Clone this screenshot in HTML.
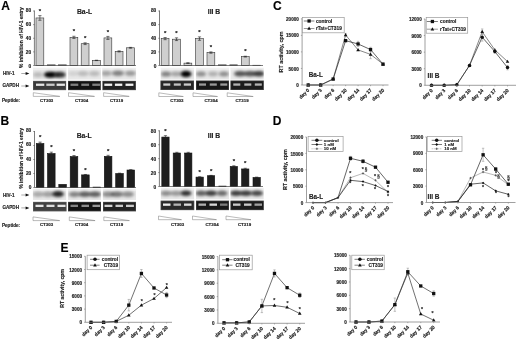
<!DOCTYPE html>
<html><head><meta charset="utf-8"><style>
html,body{margin:0;padding:0;background:#fff;width:520px;height:340px;overflow:hidden;position:relative}
svg text{font-family:"Liberation Sans", sans-serif;stroke:#222;stroke-width:0.15px}
</style></head><body>
<svg width="520" height="340" viewBox="0 0 520 340" style="position:absolute;left:0;top:0;filter:grayscale(1) blur(0.3px)">
<defs><filter id="bl" x="-50%" y="-50%" width="200%" height="200%"><feGaussianBlur stdDeviation="1.5"/></filter><filter id="bl2" x="-20%" y="-50%" width="140%" height="200%"><feGaussianBlur stdDeviation="0.35"/></filter></defs>
<rect width="520" height="340" fill="#fff"/>
<text x="1.3" y="9.7" font-size="12" font-weight="bold" text-anchor="start" fill="#000" >A</text>
<text x="0.4" y="125.1" font-size="12" font-weight="bold" text-anchor="start" fill="#000" >B</text>
<text x="273.0" y="9.7" font-size="12" font-weight="bold" text-anchor="start" fill="#000" >C</text>
<text x="272.7" y="124.9" font-size="12" font-weight="bold" text-anchor="start" fill="#000" >D</text>
<text x="60.5" y="251.5" font-size="12" font-weight="bold" text-anchor="start" fill="#000" >E</text>
<rect x="36" y="17.95" width="7.8" height="47.55" fill="#cfcfcf" stroke="#333" stroke-width="0.6"/>
<path d="M39.9 20.27V15.63M38.3 15.63H41.5M38.3 20.27H41.5" stroke="#222" stroke-width="0.6" fill="none"/>
<text x="39.9" y="12.832499999999992" font-size="6" font-weight="bold" text-anchor="middle" fill="#111" >*</text>
<rect x="47.4" y="64.82" width="7.8" height="0.68" fill="#cfcfcf" stroke="#333" stroke-width="0.6"/>
<rect x="58.6" y="64.82" width="7.8" height="0.68" fill="#cfcfcf" stroke="#333" stroke-width="0.6"/>
<rect x="70" y="37.36" width="7.8" height="28.14" fill="#cfcfcf" stroke="#333" stroke-width="0.6"/>
<path d="M73.9 38.45V36.27M72.30000000000001 36.27H75.5M72.30000000000001 38.45H75.5" stroke="#222" stroke-width="0.6" fill="none"/>
<text x="73.9" y="33.474375" font-size="6" font-weight="bold" text-anchor="middle" fill="#111" >*</text>
<rect x="81.2" y="43.70" width="7.8" height="21.80" fill="#cfcfcf" stroke="#333" stroke-width="0.6"/>
<path d="M85.10000000000001 44.59V42.81M83.50000000000001 42.81H86.7M83.50000000000001 44.59H86.7" stroke="#222" stroke-width="0.6" fill="none"/>
<text x="85.10000000000001" y="40.014375" font-size="6" font-weight="bold" text-anchor="middle" fill="#111" >*</text>
<rect x="92.6" y="60.39" width="7.8" height="5.11" fill="#cfcfcf" stroke="#333" stroke-width="0.6"/>
<path d="M96.5 60.59V60.19M94.9 60.19H98.1M94.9 60.59H98.1" stroke="#222" stroke-width="0.6" fill="none"/>
<rect x="104" y="37.91" width="7.8" height="27.59" fill="#cfcfcf" stroke="#333" stroke-width="0.6"/>
<path d="M107.9 39.41V36.41M106.30000000000001 36.41H109.5M106.30000000000001 39.41H109.5" stroke="#222" stroke-width="0.6" fill="none"/>
<text x="107.9" y="33.610625" font-size="6" font-weight="bold" text-anchor="middle" fill="#111" >*</text>
<rect x="115.2" y="51.40" width="7.8" height="14.10" fill="#cfcfcf" stroke="#333" stroke-width="0.6"/>
<path d="M119.10000000000001 51.94V50.85M117.50000000000001 50.85H120.7M117.50000000000001 51.94H120.7" stroke="#222" stroke-width="0.6" fill="none"/>
<rect x="126.6" y="47.79" width="7.8" height="17.71" fill="#cfcfcf" stroke="#333" stroke-width="0.6"/>
<path d="M130.5 48.20V47.38M128.9 47.38H132.1M128.9 48.20H132.1" stroke="#222" stroke-width="0.6" fill="none"/>
<path d="M34.4 10.5V65.5H136" stroke="#444" stroke-width="0.7" fill="none"/>
<path d="M33.199999999999996 65.50H34.4" stroke="#444" stroke-width="0.6"/>
<text x="31.2" y="68.0" font-size="4.8" font-weight="bold" text-anchor="end" fill="#222" >0</text>
<path d="M33.199999999999996 51.88H34.4" stroke="#444" stroke-width="0.6"/>
<text x="31.2" y="54.1" font-size="4.8" font-weight="bold" text-anchor="end" fill="#222" >20</text>
<path d="M33.199999999999996 38.25H34.4" stroke="#444" stroke-width="0.6"/>
<text x="31.2" y="40.2" font-size="4.8" font-weight="bold" text-anchor="end" fill="#222" >40</text>
<path d="M33.199999999999996 24.62H34.4" stroke="#444" stroke-width="0.6"/>
<text x="31.2" y="26.3" font-size="4.8" font-weight="bold" text-anchor="end" fill="#222" >60</text>
<path d="M33.199999999999996 11.00H34.4" stroke="#444" stroke-width="0.6"/>
<text x="31.2" y="12.400000000000002" font-size="4.8" font-weight="bold" text-anchor="end" fill="#222" >80</text>
<text x="84.5" y="14.2" font-size="6.8" font-weight="bold" text-anchor="middle" fill="#222" >Ba-L</text>
<text x="0" y="0" font-size="4.9" font-weight="bold" text-anchor="middle" fill="#222" transform="translate(23.1,37.6) rotate(-90)">% inhibition of HIV-1 entry</text>
<rect x="161.2" y="38.59" width="7.8" height="26.91" fill="#cfcfcf" stroke="#333" stroke-width="0.6"/>
<path d="M165.1 39.68V37.50M163.5 37.50H166.7M163.5 39.68H166.7" stroke="#222" stroke-width="0.6" fill="none"/>
<text x="165.1" y="34.700625" font-size="6" font-weight="bold" text-anchor="middle" fill="#111" >*</text>
<rect x="172.6" y="39.20" width="7.8" height="26.30" fill="#cfcfcf" stroke="#333" stroke-width="0.6"/>
<path d="M176.5 40.57V37.84M174.9 37.84H178.1M174.9 40.57H178.1" stroke="#222" stroke-width="0.6" fill="none"/>
<text x="176.5" y="35.041250000000005" font-size="6" font-weight="bold" text-anchor="middle" fill="#111" >*</text>
<rect x="184" y="63.12" width="7.8" height="2.38" fill="#cfcfcf" stroke="#333" stroke-width="0.6"/>
<path d="M187.9 63.46V62.77M186.3 62.77H189.5M186.3 63.46H189.5" stroke="#222" stroke-width="0.6" fill="none"/>
<rect x="195.6" y="38.59" width="7.8" height="26.91" fill="#cfcfcf" stroke="#333" stroke-width="0.6"/>
<path d="M199.5 40.29V36.89M197.9 36.89H201.1M197.9 40.29H201.1" stroke="#222" stroke-width="0.6" fill="none"/>
<text x="199.5" y="34.087500000000006" font-size="6" font-weight="bold" text-anchor="middle" fill="#111" >*</text>
<rect x="207" y="52.56" width="7.8" height="12.94" fill="#cfcfcf" stroke="#333" stroke-width="0.6"/>
<path d="M210.9 53.24V51.88M209.3 51.88H212.5M209.3 53.24H212.5" stroke="#222" stroke-width="0.6" fill="none"/>
<text x="210.9" y="49.075" font-size="6" font-weight="bold" text-anchor="middle" fill="#111" >*</text>
<rect x="218.4" y="64.82" width="7.8" height="0.68" fill="#cfcfcf" stroke="#333" stroke-width="0.6"/>
<rect x="229.8" y="64.82" width="7.8" height="0.68" fill="#cfcfcf" stroke="#333" stroke-width="0.6"/>
<rect x="241.4" y="56.64" width="7.8" height="8.86" fill="#cfcfcf" stroke="#333" stroke-width="0.6"/>
<path d="M245.3 57.05V56.23M243.70000000000002 56.23H246.9M243.70000000000002 57.05H246.9" stroke="#222" stroke-width="0.6" fill="none"/>
<text x="245.3" y="53.435" font-size="6" font-weight="bold" text-anchor="middle" fill="#111" >*</text>
<rect x="252.8" y="65.23" width="7.8" height="0.27" fill="#cfcfcf" stroke="#333" stroke-width="0.6"/>
<path d="M159.5 10.5V65.5H263" stroke="#444" stroke-width="0.7" fill="none"/>
<path d="M158.3 65.50H159.5" stroke="#444" stroke-width="0.6"/>
<text x="156.3" y="68.0" font-size="4.8" font-weight="bold" text-anchor="end" fill="#222" >0</text>
<path d="M158.3 51.88H159.5" stroke="#444" stroke-width="0.6"/>
<text x="156.3" y="54.1" font-size="4.8" font-weight="bold" text-anchor="end" fill="#222" >20</text>
<path d="M158.3 38.25H159.5" stroke="#444" stroke-width="0.6"/>
<text x="156.3" y="40.2" font-size="4.8" font-weight="bold" text-anchor="end" fill="#222" >40</text>
<path d="M158.3 24.62H159.5" stroke="#444" stroke-width="0.6"/>
<text x="156.3" y="26.3" font-size="4.8" font-weight="bold" text-anchor="end" fill="#222" >60</text>
<path d="M158.3 11.00H159.5" stroke="#444" stroke-width="0.6"/>
<text x="156.3" y="12.400000000000002" font-size="4.8" font-weight="bold" text-anchor="end" fill="#222" >80</text>
<text x="214" y="14" font-size="6.8" font-weight="bold" text-anchor="middle" fill="#222" >III B</text>
<rect x="36.3" y="143.54" width="7.6" height="43.96" fill="#1e1e1e" stroke="#111" stroke-width="0.6"/>
<path d="M40.099999999999994 144.94V142.14M38.49999999999999 142.14H41.699999999999996M38.49999999999999 144.94H41.699999999999996" stroke="#222" stroke-width="0.6" fill="none"/>
<text x="40.099999999999994" y="139.34" font-size="6" font-weight="bold" text-anchor="middle" fill="#111" >*</text>
<rect x="47.5" y="153.55" width="7.6" height="33.95" fill="#1e1e1e" stroke="#111" stroke-width="0.6"/>
<path d="M51.3 154.95V152.15M49.699999999999996 152.15H52.9M49.699999999999996 154.95H52.9" stroke="#222" stroke-width="0.6" fill="none"/>
<text x="51.3" y="149.35" font-size="6" font-weight="bold" text-anchor="middle" fill="#111" >*</text>
<rect x="58.8" y="184.35" width="7.6" height="3.15" fill="#1e1e1e" stroke="#111" stroke-width="0.6"/>
<rect x="70.2" y="156.56" width="7.6" height="30.94" fill="#1e1e1e" stroke="#111" stroke-width="0.6"/>
<path d="M74.0 157.61V155.51M72.4 155.51H75.6M72.4 157.61H75.6" stroke="#222" stroke-width="0.6" fill="none"/>
<text x="74.0" y="152.70999999999998" font-size="6" font-weight="bold" text-anchor="middle" fill="#111" >*</text>
<rect x="81.6" y="174.90" width="7.6" height="12.60" fill="#1e1e1e" stroke="#111" stroke-width="0.6"/>
<path d="M85.39999999999999 175.32V174.48M83.8 174.48H86.99999999999999M83.8 175.32H86.99999999999999" stroke="#222" stroke-width="0.6" fill="none"/>
<text x="85.39999999999999" y="171.67999999999998" font-size="6" font-weight="bold" text-anchor="middle" fill="#111" >*</text>
<rect x="93" y="187.08" width="7.6" height="0.42" fill="#1e1e1e" stroke="#111" stroke-width="0.6"/>
<rect x="104.3" y="156.35" width="7.6" height="31.15" fill="#1e1e1e" stroke="#111" stroke-width="0.6"/>
<path d="M108.1 157.40V155.30M106.5 155.30H109.69999999999999M106.5 157.40H109.69999999999999" stroke="#222" stroke-width="0.6" fill="none"/>
<text x="108.1" y="152.5" font-size="6" font-weight="bold" text-anchor="middle" fill="#111" >*</text>
<rect x="115.7" y="173.50" width="7.6" height="14.00" fill="#1e1e1e" stroke="#111" stroke-width="0.6"/>
<path d="M119.5 173.85V173.15M117.9 173.15H121.1M117.9 173.85H121.1" stroke="#222" stroke-width="0.6" fill="none"/>
<rect x="127" y="170.00" width="7.6" height="17.50" fill="#1e1e1e" stroke="#111" stroke-width="0.6"/>
<path d="M130.8 170.35V169.65M129.20000000000002 169.65H132.4M129.20000000000002 170.35H132.4" stroke="#222" stroke-width="0.6" fill="none"/>
<path d="M34.5 131.0V187.5H136" stroke="#444" stroke-width="0.7" fill="none"/>
<path d="M33.3 187.50H34.5" stroke="#444" stroke-width="0.6"/>
<text x="31.3" y="188.89999999999998" font-size="4.8" font-weight="bold" text-anchor="end" fill="#222" >0</text>
<path d="M33.3 173.50H34.5" stroke="#444" stroke-width="0.6"/>
<text x="31.3" y="174.72499999999997" font-size="4.8" font-weight="bold" text-anchor="end" fill="#222" >20</text>
<path d="M33.3 159.50H34.5" stroke="#444" stroke-width="0.6"/>
<text x="31.3" y="160.54999999999998" font-size="4.8" font-weight="bold" text-anchor="end" fill="#222" >40</text>
<path d="M33.3 145.50H34.5" stroke="#444" stroke-width="0.6"/>
<text x="31.3" y="146.375" font-size="4.8" font-weight="bold" text-anchor="end" fill="#222" >60</text>
<path d="M33.3 131.50H34.5" stroke="#444" stroke-width="0.6"/>
<text x="31.3" y="132.2" font-size="4.8" font-weight="bold" text-anchor="end" fill="#222" >80</text>
<text x="84.2" y="138" font-size="6.8" font-weight="bold" text-anchor="middle" fill="#222" >Ba-L</text>
<text x="0" y="0" font-size="4.9" font-weight="bold" text-anchor="middle" fill="#222" transform="translate(22.8,158.3) rotate(-90)">% inhibition of HIV-1 entry</text>
<rect x="161.8" y="137.07" width="7.3" height="49.43" fill="#1e1e1e" stroke="#111" stroke-width="0.6"/>
<path d="M165.45000000000002 138.46V135.67M163.85000000000002 135.67H167.05M163.85000000000002 138.46H167.05" stroke="#222" stroke-width="0.6" fill="none"/>
<text x="165.45000000000002" y="132.87375" font-size="6" font-weight="bold" text-anchor="middle" fill="#111" >*</text>
<rect x="173.2" y="153.01" width="7.3" height="33.49" fill="#1e1e1e" stroke="#111" stroke-width="0.6"/>
<path d="M176.85 153.71V152.31M175.25 152.31H178.45M175.25 153.71H178.45" stroke="#222" stroke-width="0.6" fill="none"/>
<rect x="184.6" y="153.01" width="7.3" height="33.49" fill="#1e1e1e" stroke="#111" stroke-width="0.6"/>
<path d="M188.25 153.71V152.31M186.65 152.31H189.85M186.65 153.71H189.85" stroke="#222" stroke-width="0.6" fill="none"/>
<rect x="196.0" y="177.10" width="7.3" height="9.40" fill="#1e1e1e" stroke="#111" stroke-width="0.6"/>
<path d="M199.65 177.45V176.75M198.05 176.75H201.25M198.05 177.45H201.25" stroke="#222" stroke-width="0.6" fill="none"/>
<text x="199.65" y="173.9525" font-size="6" font-weight="bold" text-anchor="middle" fill="#111" >*</text>
<rect x="207.4" y="175.71" width="7.3" height="10.79" fill="#1e1e1e" stroke="#111" stroke-width="0.6"/>
<path d="M211.05 176.06V175.36M209.45000000000002 175.36H212.65M209.45000000000002 176.06H212.65" stroke="#222" stroke-width="0.6" fill="none"/>
<text x="211.05" y="172.56" font-size="6" font-weight="bold" text-anchor="middle" fill="#111" >*</text>
<rect x="218.8" y="186.08" width="7.3" height="0.42" fill="#1e1e1e" stroke="#111" stroke-width="0.6"/>
<rect x="230.2" y="166.45" width="7.3" height="20.05" fill="#1e1e1e" stroke="#111" stroke-width="0.6"/>
<path d="M233.85 167.14V165.75M232.25 165.75H235.45M232.25 167.14H235.45" stroke="#222" stroke-width="0.6" fill="none"/>
<text x="233.85" y="162.95175" font-size="6" font-weight="bold" text-anchor="middle" fill="#111" >*</text>
<rect x="241.6" y="168.95" width="7.3" height="17.55" fill="#1e1e1e" stroke="#111" stroke-width="0.6"/>
<path d="M245.25 169.65V168.26M243.65 168.26H246.85M243.65 169.65H246.85" stroke="#222" stroke-width="0.6" fill="none"/>
<text x="245.25" y="165.45825" font-size="6" font-weight="bold" text-anchor="middle" fill="#111" >*</text>
<rect x="253.0" y="177.45" width="7.3" height="9.05" fill="#1e1e1e" stroke="#111" stroke-width="0.6"/>
<path d="M256.65 177.80V177.10M255.04999999999998 177.10H258.25M255.04999999999998 177.80H258.25" stroke="#222" stroke-width="0.6" fill="none"/>
<path d="M159.4 130.3V186.5H263" stroke="#444" stroke-width="0.7" fill="none"/>
<path d="M158.20000000000002 186.50H159.4" stroke="#444" stroke-width="0.6"/>
<text x="156.20000000000002" y="188.79999999999998" font-size="4.8" font-weight="bold" text-anchor="end" fill="#222" >0</text>
<path d="M158.20000000000002 172.57H159.4" stroke="#444" stroke-width="0.6"/>
<text x="156.20000000000002" y="174.725" font-size="4.8" font-weight="bold" text-anchor="end" fill="#222" >20</text>
<path d="M158.20000000000002 158.65H159.4" stroke="#444" stroke-width="0.6"/>
<text x="156.20000000000002" y="160.64999999999998" font-size="4.8" font-weight="bold" text-anchor="end" fill="#222" >40</text>
<path d="M158.20000000000002 144.73H159.4" stroke="#444" stroke-width="0.6"/>
<text x="156.20000000000002" y="146.575" font-size="4.8" font-weight="bold" text-anchor="end" fill="#222" >60</text>
<path d="M158.20000000000002 130.80H159.4" stroke="#444" stroke-width="0.6"/>
<text x="156.20000000000002" y="132.5" font-size="4.8" font-weight="bold" text-anchor="end" fill="#222" >80</text>
<text x="214" y="138" font-size="6.8" font-weight="bold" text-anchor="middle" fill="#222" >III B</text>
<svg x="32.8" y="67.6" width="33.90" height="12.2" overflow="hidden">
<rect x="0" y="0" width="33.900000000000006" height="12.2" fill="#e8e8e8"/>
<rect x="0" y="0" width="33.900000000000006" height="2.5" fill="#fff" fill-opacity="0.35" filter="url(#bl2)"/>
<ellipse cx="5.200000000000003" cy="7.1000000000000085" rx="5" ry="2.6" fill="#000" fill-opacity="0.2" filter="url(#bl)"/>
<ellipse cx="17.0" cy="7.1000000000000085" rx="5.8" ry="3.0" fill="#000" fill-opacity="1" filter="url(#bl)"/>
<ellipse cx="27.400000000000006" cy="7.1000000000000085" rx="5.6" ry="2.9" fill="#000" fill-opacity="0.8" filter="url(#bl)"/>
<ellipse cx="22.200000000000003" cy="7.1000000000000085" rx="4" ry="2.6" fill="#000" fill-opacity="0.5" filter="url(#bl)"/>
</svg>
<svg x="67.7" y="67.6" width="33.50" height="12.2" overflow="hidden">
<rect x="0" y="0" width="33.5" height="12.2" fill="#e8e8e8"/>
<rect x="0" y="0" width="33.5" height="2.5" fill="#fff" fill-opacity="0.35" filter="url(#bl2)"/>
<ellipse cx="5.299999999999997" cy="6.0" rx="5" ry="2.4" fill="#000" fill-opacity="0.1" filter="url(#bl)"/>
<ellipse cx="15.299999999999997" cy="6.0" rx="5.5" ry="2.6" fill="#000" fill-opacity="0.2" filter="url(#bl)"/>
<ellipse cx="26.700000000000003" cy="6.0" rx="5.5" ry="2.6" fill="#000" fill-opacity="0.2" filter="url(#bl)"/>
</svg>
<svg x="102.2" y="67.6" width="34.00" height="12.2" overflow="hidden">
<rect x="0" y="0" width="33.999999999999986" height="12.2" fill="#e8e8e8"/>
<rect x="0" y="0" width="33.999999999999986" height="2.5" fill="#fff" fill-opacity="0.35" filter="url(#bl2)"/>
<ellipse cx="4.0" cy="5.700000000000003" rx="5.5" ry="2.6" fill="#000" fill-opacity="0.3" filter="url(#bl)"/>
<ellipse cx="15.799999999999997" cy="5.700000000000003" rx="6" ry="2.8" fill="#000" fill-opacity="0.45" filter="url(#bl)"/>
<ellipse cx="28.200000000000003" cy="5.700000000000003" rx="5.5" ry="2.6" fill="#000" fill-opacity="0.35" filter="url(#bl)"/>
</svg>
<rect x="33" y="80.9" width="33.099999999999994" height="9.2" fill="#3a3a3a"/>
<rect x="33.3" y="81.2" width="32.49999999999999" height="8.6" fill="none" stroke="#888" stroke-opacity="0.45" stroke-width="0.6"/>
<rect x="36" y="83.60" width="8.3" height="2.3" fill="#eeeeee" fill-opacity="0.95" filter="url(#bl2)"/>
<rect x="46.3" y="83.60" width="8.3" height="2.3" fill="#eeeeee" fill-opacity="0.8" filter="url(#bl2)"/>
<rect x="56.6" y="83.60" width="8.3" height="2.3" fill="#eeeeee" fill-opacity="0.95" filter="url(#bl2)"/>
<rect x="68" y="80.9" width="32.8" height="9.2" fill="#121212"/>
<rect x="68.3" y="81.2" width="32.199999999999996" height="8.6" fill="none" stroke="#888" stroke-opacity="0.45" stroke-width="0.6"/>
<rect x="70.5" y="83.60" width="7.8" height="2.3" fill="#c8c8c8" fill-opacity="0.6" filter="url(#bl2)"/>
<rect x="81.3" y="83.60" width="7.8" height="2.3" fill="#c8c8c8" fill-opacity="0.6" filter="url(#bl2)"/>
<rect x="92.3" y="83.60" width="7.8" height="2.3" fill="#c8c8c8" fill-opacity="0.6" filter="url(#bl2)"/>
<rect x="102.5" y="80.9" width="33.400000000000006" height="9.2" fill="#222222"/>
<rect x="102.8" y="81.2" width="32.800000000000004" height="8.6" fill="none" stroke="#888" stroke-opacity="0.45" stroke-width="0.6"/>
<rect x="104.3" y="83.60" width="7.9" height="2.3" fill="#f2f2f2" fill-opacity="1" filter="url(#bl2)"/>
<rect x="114.9" y="83.60" width="7.4" height="2.3" fill="#f2f2f2" fill-opacity="1" filter="url(#bl2)"/>
<rect x="125.5" y="83.60" width="7.9" height="2.3" fill="#f2f2f2" fill-opacity="1" filter="url(#bl2)"/>
<path d="M33.3 92.7L59.8 96.4H33.3Z" fill="#fff" stroke="#777" stroke-width="0.5"/>
<path d="M68.5 92.7L94.5 96.4H68.5Z" fill="#fff" stroke="#777" stroke-width="0.5"/>
<path d="M103.6 92.7L129.2 96.4H103.6Z" fill="#fff" stroke="#777" stroke-width="0.5"/>
<text x="46.7" y="102.0" font-size="4.4" font-weight="bold" text-anchor="middle" fill="#222" >CT303</text>
<text x="81.5" y="102.0" font-size="4.4" font-weight="bold" text-anchor="middle" fill="#222" >CT304</text>
<text x="116.5" y="102.0" font-size="4.4" font-weight="bold" text-anchor="middle" fill="#222" >CT319</text>
<text x="3" y="75.2" font-size="4.6" font-weight="bold" text-anchor="start" fill="#222" >HIV-1</text>
<text x="2.4" y="87.3" font-size="4.6" font-weight="bold" text-anchor="start" fill="#222" >GAPDH</text>
<path d="M21.3 73.5H27" stroke="#555" stroke-width="0.5"/><path d="M25.6 72.0L29.4 73.5L25.6 75.0Z" fill="#111"/>
<path d="M21.3 86.0H27" stroke="#555" stroke-width="0.5"/><path d="M25.6 84.5L29.4 86.0L25.6 87.5Z" fill="#111"/>
<text x="2" y="102.3" font-size="4.6" font-weight="bold" text-anchor="start" fill="#222" >Peptide:</text>
<svg x="160.5" y="67.6" width="33.70" height="12.2" overflow="hidden">
<rect x="0" y="0" width="33.69999999999999" height="12.2" fill="#e8e8e8"/>
<rect x="0" y="0" width="33.69999999999999" height="2.5" fill="#fff" fill-opacity="0.35" filter="url(#bl2)"/>
<ellipse cx="5.5" cy="6.400000000000006" rx="5" ry="2.6" fill="#000" fill-opacity="0.45" filter="url(#bl)"/>
<ellipse cx="15.5" cy="6.400000000000006" rx="5" ry="2.4" fill="#000" fill-opacity="0.3" filter="url(#bl)"/>
<ellipse cx="25.5" cy="6.400000000000006" rx="5.5" ry="3.2" fill="#000" fill-opacity="1.0" filter="url(#bl)"/>
</svg>
<svg x="195.8" y="67.6" width="33.40" height="12.2" overflow="hidden">
<rect x="0" y="0" width="33.39999999999998" height="12.2" fill="#e8e8e8"/>
<rect x="0" y="0" width="33.39999999999998" height="2.5" fill="#fff" fill-opacity="0.35" filter="url(#bl2)"/>
<ellipse cx="5.199999999999989" cy="6.400000000000006" rx="5" ry="2.5" fill="#000" fill-opacity="0.4" filter="url(#bl)"/>
<ellipse cx="17.19999999999999" cy="6.400000000000006" rx="5" ry="2.4" fill="#000" fill-opacity="0.25" filter="url(#bl)"/>
<ellipse cx="28.19999999999999" cy="6.400000000000006" rx="5" ry="2.5" fill="#000" fill-opacity="0.4" filter="url(#bl)"/>
</svg>
<svg x="230.3" y="67.6" width="33.50" height="12.2" overflow="hidden">
<rect x="0" y="0" width="33.5" height="12.2" fill="#e8e8e8"/>
<rect x="0" y="0" width="33.5" height="2.5" fill="#fff" fill-opacity="0.35" filter="url(#bl2)"/>
<ellipse cx="9.699999999999989" cy="6.200000000000003" rx="6" ry="2.8" fill="#000" fill-opacity="0.65" filter="url(#bl)"/>
<ellipse cx="19.69999999999999" cy="6.200000000000003" rx="6" ry="2.8" fill="#000" fill-opacity="0.65" filter="url(#bl)"/>
<ellipse cx="28.69999999999999" cy="6.200000000000003" rx="5.5" ry="2.8" fill="#000" fill-opacity="0.75" filter="url(#bl)"/>
</svg>
<rect x="160.5" y="80.6" width="33.5" height="9.4" fill="#262626"/>
<rect x="160.8" y="80.89999999999999" width="32.9" height="8.8" fill="none" stroke="#888" stroke-opacity="0.45" stroke-width="0.6"/>
<rect x="163.3" y="83.40" width="7" height="2.3" fill="#e8e8e8" fill-opacity="0.85" filter="url(#bl2)"/>
<rect x="173.8" y="83.40" width="7" height="2.3" fill="#e8e8e8" fill-opacity="0.8" filter="url(#bl2)"/>
<rect x="183.8" y="83.40" width="7.2" height="2.3" fill="#e8e8e8" fill-opacity="0.85" filter="url(#bl2)"/>
<rect x="196" y="80.6" width="33" height="9.4" fill="#171717"/>
<rect x="196.3" y="80.89999999999999" width="32.4" height="8.8" fill="none" stroke="#888" stroke-opacity="0.45" stroke-width="0.6"/>
<rect x="199" y="83.40" width="7" height="2.3" fill="#d0d0d0" fill-opacity="0.7" filter="url(#bl2)"/>
<rect x="209.8" y="83.40" width="7" height="2.3" fill="#d0d0d0" fill-opacity="0.7" filter="url(#bl2)"/>
<rect x="220.3" y="83.40" width="7" height="2.3" fill="#d0d0d0" fill-opacity="0.7" filter="url(#bl2)"/>
<rect x="230.5" y="80.6" width="33.30000000000001" height="9.4" fill="#1c1c1c"/>
<rect x="230.8" y="80.89999999999999" width="32.70000000000001" height="8.8" fill="none" stroke="#888" stroke-opacity="0.45" stroke-width="0.6"/>
<rect x="233.3" y="83.40" width="7" height="2.3" fill="#d8d8d8" fill-opacity="0.8" filter="url(#bl2)"/>
<rect x="244.3" y="83.40" width="7" height="2.3" fill="#d8d8d8" fill-opacity="0.8" filter="url(#bl2)"/>
<rect x="254.8" y="83.40" width="7" height="2.3" fill="#d8d8d8" fill-opacity="0.8" filter="url(#bl2)"/>
<path d="M158.8 92.8L183.3 96.5H158.8Z" fill="#fff" stroke="#777" stroke-width="0.5"/>
<path d="M193 92.8L217.5 96.5H193Z" fill="#fff" stroke="#777" stroke-width="0.5"/>
<path d="M227.2 92.8L253.2 96.5H227.2Z" fill="#fff" stroke="#777" stroke-width="0.5"/>
<text x="176.9" y="101.5" font-size="4.4" font-weight="bold" text-anchor="middle" fill="#222" >CT303</text>
<text x="211" y="101.5" font-size="4.4" font-weight="bold" text-anchor="middle" fill="#222" >CT304</text>
<text x="242" y="101.5" font-size="4.4" font-weight="bold" text-anchor="middle" fill="#222" >CT319</text>
<svg x="32.8" y="188.5" width="33.70" height="11.5" overflow="hidden">
<rect x="0" y="0" width="33.7" height="11.5" fill="#e8e8e8"/>
<rect x="0" y="0" width="33.7" height="2.5" fill="#fff" fill-opacity="0.35" filter="url(#bl2)"/>
<ellipse cx="5.200000000000003" cy="5.800000000000011" rx="5.5" ry="2.8" fill="#000" fill-opacity="0.28" filter="url(#bl)"/>
<ellipse cx="15.200000000000003" cy="5.800000000000011" rx="5.5" ry="2.8" fill="#000" fill-opacity="0.32" filter="url(#bl)"/>
<ellipse cx="25.200000000000003" cy="5.5" rx="6" ry="3.0" fill="#000" fill-opacity="0.85" filter="url(#bl)"/>
</svg>
<svg x="67.7" y="188.5" width="33.50" height="11.5" overflow="hidden">
<rect x="0" y="0" width="33.5" height="11.5" fill="#e8e8e8"/>
<rect x="0" y="0" width="33.5" height="2.5" fill="#fff" fill-opacity="0.35" filter="url(#bl2)"/>
<ellipse cx="6.599999999999994" cy="5.800000000000011" rx="5.5" ry="2.6" fill="#000" fill-opacity="0.45" filter="url(#bl)"/>
<ellipse cx="17.0" cy="5.800000000000011" rx="6" ry="2.8" fill="#000" fill-opacity="0.6" filter="url(#bl)"/>
<ellipse cx="27.299999999999997" cy="5.800000000000011" rx="6" ry="2.8" fill="#000" fill-opacity="0.6" filter="url(#bl)"/>
</svg>
<svg x="102.7" y="188.5" width="33.50" height="11.5" overflow="hidden">
<rect x="0" y="0" width="33.499999999999986" height="11.5" fill="#e8e8e8"/>
<rect x="0" y="0" width="33.499999999999986" height="2.5" fill="#fff" fill-opacity="0.35" filter="url(#bl2)"/>
<ellipse cx="5.299999999999997" cy="5.800000000000011" rx="6" ry="2.8" fill="#000" fill-opacity="0.4" filter="url(#bl)"/>
<ellipse cx="14.299999999999997" cy="5.800000000000011" rx="6" ry="2.8" fill="#000" fill-opacity="0.5" filter="url(#bl)"/>
<ellipse cx="25.299999999999997" cy="5.800000000000011" rx="6" ry="2.8" fill="#000" fill-opacity="0.4" filter="url(#bl)"/>
</svg>
<rect x="33" y="201.9" width="33.5" height="9.4" fill="#404040"/>
<rect x="33.3" y="202.20000000000002" width="32.9" height="8.8" fill="none" stroke="#888" stroke-opacity="0.45" stroke-width="0.6"/>
<rect x="35.5" y="204.70" width="8" height="2.3" fill="#eeeeee" fill-opacity="0.95" filter="url(#bl2)"/>
<rect x="46.5" y="204.70" width="8" height="2.3" fill="#eeeeee" fill-opacity="0.9" filter="url(#bl2)"/>
<rect x="57.5" y="204.70" width="8" height="2.3" fill="#eeeeee" fill-opacity="0.95" filter="url(#bl2)"/>
<rect x="68" y="201.9" width="33" height="9.4" fill="#121212"/>
<rect x="68.3" y="202.20000000000002" width="32.4" height="8.8" fill="none" stroke="#888" stroke-opacity="0.45" stroke-width="0.6"/>
<rect x="70.5" y="204.70" width="7.5" height="2.3" fill="#d0d0d0" fill-opacity="0.6" filter="url(#bl2)"/>
<rect x="81.5" y="204.70" width="7.5" height="2.3" fill="#d0d0d0" fill-opacity="0.65" filter="url(#bl2)"/>
<rect x="92.5" y="204.70" width="7.5" height="2.3" fill="#d0d0d0" fill-opacity="0.7" filter="url(#bl2)"/>
<rect x="103" y="201.9" width="33" height="9.4" fill="#222222"/>
<rect x="103.3" y="202.20000000000002" width="32.4" height="8.8" fill="none" stroke="#888" stroke-opacity="0.45" stroke-width="0.6"/>
<rect x="104.5" y="204.70" width="7.9" height="2.3" fill="#e8e8e8" fill-opacity="0.9" filter="url(#bl2)"/>
<rect x="115.5" y="204.70" width="7.5" height="2.3" fill="#e8e8e8" fill-opacity="0.85" filter="url(#bl2)"/>
<rect x="126" y="204.70" width="7.9" height="2.3" fill="#e8e8e8" fill-opacity="0.85" filter="url(#bl2)"/>
<path d="M33 216.9L59.7 220.6H33Z" fill="#fff" stroke="#777" stroke-width="0.5"/>
<path d="M69.3 216.9L95.1 220.6H69.3Z" fill="#fff" stroke="#777" stroke-width="0.5"/>
<path d="M103.8 216.9L129.4 220.6H103.8Z" fill="#fff" stroke="#777" stroke-width="0.5"/>
<text x="46.5" y="226.2" font-size="4.4" font-weight="bold" text-anchor="middle" fill="#222" >CT303</text>
<text x="81.5" y="226.2" font-size="4.4" font-weight="bold" text-anchor="middle" fill="#222" >CT304</text>
<text x="116.5" y="226.2" font-size="4.4" font-weight="bold" text-anchor="middle" fill="#222" >CT319</text>
<text x="3" y="196.7" font-size="4.6" font-weight="bold" text-anchor="start" fill="#222" >HIV-1</text>
<text x="2.4" y="209.2" font-size="4.6" font-weight="bold" text-anchor="start" fill="#222" >GAPDH</text>
<path d="M21.3 195H27" stroke="#555" stroke-width="0.5"/><path d="M25.6 193.5L29.4 195L25.6 196.5Z" fill="#111"/>
<path d="M21.3 207.9H27" stroke="#555" stroke-width="0.5"/><path d="M25.6 206.4L29.4 207.9L25.6 209.4Z" fill="#111"/>
<text x="2" y="226.6" font-size="4.6" font-weight="bold" text-anchor="start" fill="#222" >Peptide:</text>
<svg x="160.7" y="187.6" width="33.70" height="12" overflow="hidden">
<rect x="0" y="0" width="33.70000000000002" height="12" fill="#e8e8e8"/>
<rect x="0" y="0" width="33.70000000000002" height="2.5" fill="#fff" fill-opacity="0.35" filter="url(#bl2)"/>
<ellipse cx="5.300000000000011" cy="5.700000000000017" rx="5.5" ry="2.6" fill="#000" fill-opacity="0.4" filter="url(#bl)"/>
<ellipse cx="15.300000000000011" cy="5.700000000000017" rx="5.5" ry="2.6" fill="#000" fill-opacity="0.35" filter="url(#bl)"/>
<ellipse cx="25.30000000000001" cy="5.700000000000017" rx="5.5" ry="2.8" fill="#000" fill-opacity="0.8" filter="url(#bl)"/>
</svg>
<svg x="195.8" y="187.6" width="33.40" height="12" overflow="hidden">
<rect x="0" y="0" width="33.39999999999998" height="12" fill="#e8e8e8"/>
<rect x="0" y="0" width="33.39999999999998" height="2.5" fill="#fff" fill-opacity="0.35" filter="url(#bl2)"/>
<ellipse cx="5.199999999999989" cy="5.700000000000017" rx="5.5" ry="2.7" fill="#000" fill-opacity="0.6" filter="url(#bl)"/>
<ellipse cx="15.199999999999989" cy="5.700000000000017" rx="6" ry="2.8" fill="#000" fill-opacity="0.75" filter="url(#bl)"/>
<ellipse cx="26.19999999999999" cy="5.700000000000017" rx="5.5" ry="2.7" fill="#000" fill-opacity="0.55" filter="url(#bl)"/>
</svg>
<svg x="230.3" y="187.6" width="33.50" height="12" overflow="hidden">
<rect x="0" y="0" width="33.5" height="12" fill="#e8e8e8"/>
<rect x="0" y="0" width="33.5" height="2.5" fill="#fff" fill-opacity="0.35" filter="url(#bl2)"/>
<ellipse cx="5.699999999999989" cy="5.700000000000017" rx="6" ry="2.8" fill="#000" fill-opacity="0.75" filter="url(#bl)"/>
<ellipse cx="15.699999999999989" cy="5.700000000000017" rx="6" ry="2.8" fill="#000" fill-opacity="0.75" filter="url(#bl)"/>
<ellipse cx="26.69999999999999" cy="5.700000000000017" rx="6" ry="2.8" fill="#000" fill-opacity="0.7" filter="url(#bl)"/>
</svg>
<rect x="160.7" y="200.7" width="33.5" height="9.4" fill="#2a2a2a"/>
<rect x="161.0" y="201.0" width="32.9" height="8.8" fill="none" stroke="#888" stroke-opacity="0.45" stroke-width="0.6"/>
<rect x="163" y="203.50" width="7.5" height="2.3" fill="#eeeeee" fill-opacity="1" filter="url(#bl2)"/>
<rect x="173.5" y="203.50" width="7.5" height="2.3" fill="#eeeeee" fill-opacity="0.7" filter="url(#bl2)"/>
<rect x="184" y="203.50" width="7.5" height="2.3" fill="#eeeeee" fill-opacity="0.9" filter="url(#bl2)"/>
<rect x="196" y="200.7" width="33" height="9.4" fill="#181818"/>
<rect x="196.3" y="201.0" width="32.4" height="8.8" fill="none" stroke="#888" stroke-opacity="0.45" stroke-width="0.6"/>
<rect x="198.5" y="203.50" width="7.5" height="2.3" fill="#e0e0e0" fill-opacity="0.75" filter="url(#bl2)"/>
<rect x="209.5" y="203.50" width="7.5" height="2.3" fill="#e0e0e0" fill-opacity="0.95" filter="url(#bl2)"/>
<rect x="220" y="203.50" width="7.5" height="2.3" fill="#e0e0e0" fill-opacity="0.5" filter="url(#bl2)"/>
<rect x="230.5" y="200.7" width="33.30000000000001" height="9.4" fill="#1c1c1c"/>
<rect x="230.8" y="201.0" width="32.70000000000001" height="8.8" fill="none" stroke="#888" stroke-opacity="0.45" stroke-width="0.6"/>
<rect x="233" y="203.50" width="7.5" height="2.3" fill="#e8e8e8" fill-opacity="0.85" filter="url(#bl2)"/>
<rect x="244" y="203.50" width="7.5" height="2.3" fill="#e8e8e8" fill-opacity="0.85" filter="url(#bl2)"/>
<rect x="254.5" y="203.50" width="7.5" height="2.3" fill="#e8e8e8" fill-opacity="0.65" filter="url(#bl2)"/>
<path d="M158.5 216L181.5 219.7H158.5Z" fill="#fff" stroke="#777" stroke-width="0.5"/>
<path d="M192.5 216L216.5 219.7H192.5Z" fill="#fff" stroke="#777" stroke-width="0.5"/>
<path d="M226 216L251 219.7H226Z" fill="#fff" stroke="#777" stroke-width="0.5"/>
<text x="177.5" y="225.7" font-size="4.4" font-weight="bold" text-anchor="middle" fill="#222" >CT303</text>
<text x="212" y="225.7" font-size="4.4" font-weight="bold" text-anchor="middle" fill="#222" >CT304</text>
<text x="244.5" y="225.7" font-size="4.4" font-weight="bold" text-anchor="middle" fill="#222" >CT319</text>
<polyline points="308.20,85.00 320.67,85.00 333.14,79.04 345.61,35.02 358.08,49.91 370.55,54.38 383.02,64.15" fill="none" stroke="#555" stroke-width="0.7" />
<path d="M345.61 33.36V36.67M344.41 33.36H346.81M344.41 36.67H346.81" stroke="#888" stroke-width="0.5" fill="none"/>
<path d="M370.55 50.08V58.69M369.35 50.08H371.75M369.35 58.69H371.75" stroke="#888" stroke-width="0.5" fill="none"/>
<path d="M308.20 83.10L310.00 86.30H306.40Z" fill="#111"/>
<path d="M320.67 83.10L322.47 86.30H318.87Z" fill="#111"/>
<path d="M333.14 77.14L334.94 80.34H331.34Z" fill="#111"/>
<path d="M345.61 33.12L347.41 36.32H343.81Z" fill="#111"/>
<path d="M358.08 48.01L359.88 51.21H356.28Z" fill="#111"/>
<path d="M370.55 52.48L372.35 55.68H368.75Z" fill="#111"/>
<path d="M383.02 62.25L384.82 65.45H381.22Z" fill="#111"/>
<polyline points="308.20,85.00 320.67,85.00 333.14,79.04 345.61,40.65 358.08,43.96 370.55,49.58 383.02,64.15" fill="none" stroke="#222" stroke-width="0.7" />
<path d="M358.08 41.31V46.60M356.88 41.31H359.28M356.88 46.60H359.28" stroke="#888" stroke-width="0.5" fill="none"/>
<path d="M370.55 47.27V51.90M369.35 47.27H371.75M369.35 51.90H371.75" stroke="#888" stroke-width="0.5" fill="none"/>
<rect x="306.55" y="83.35" width="3.30" height="3.30" fill="#111"/>
<rect x="319.02" y="83.35" width="3.30" height="3.30" fill="#111"/>
<rect x="331.49" y="77.39" width="3.30" height="3.30" fill="#111"/>
<rect x="343.96" y="39.00" width="3.30" height="3.30" fill="#111"/>
<rect x="356.43" y="42.31" width="3.30" height="3.30" fill="#111"/>
<rect x="368.90" y="47.93" width="3.30" height="3.30" fill="#111"/>
<rect x="381.37" y="62.50" width="3.30" height="3.30" fill="#111"/>
<path d="M302.1 18.8V85H388.5" stroke="#777" stroke-width="0.7" fill="none"/>
<path d="M300.90000000000003 85.00H302.1" stroke="#777" stroke-width="0.6"/>
<text x="298.8" y="87.1" font-size="4.6" font-weight="bold" text-anchor="end" fill="#222" >0</text>
<path d="M300.90000000000003 68.45H302.1" stroke="#777" stroke-width="0.6"/>
<text x="298.8" y="70.55" font-size="4.6" font-weight="bold" text-anchor="end" fill="#222" >5000</text>
<path d="M300.90000000000003 51.90H302.1" stroke="#777" stroke-width="0.6"/>
<text x="298.8" y="54.0" font-size="4.6" font-weight="bold" text-anchor="end" fill="#222" >10000</text>
<path d="M300.90000000000003 35.35H302.1" stroke="#777" stroke-width="0.6"/>
<text x="298.8" y="37.45" font-size="4.6" font-weight="bold" text-anchor="end" fill="#222" >15000</text>
<path d="M300.90000000000003 18.80H302.1" stroke="#777" stroke-width="0.6"/>
<text x="298.8" y="20.9" font-size="4.6" font-weight="bold" text-anchor="end" fill="#222" >20000</text>
<path d="M308.20 85V86.2" stroke="#777" stroke-width="0.5"/>
<path d="M320.67 85V86.2" stroke="#777" stroke-width="0.5"/>
<path d="M333.14 85V86.2" stroke="#777" stroke-width="0.5"/>
<path d="M345.61 85V86.2" stroke="#777" stroke-width="0.5"/>
<path d="M358.08 85V86.2" stroke="#777" stroke-width="0.5"/>
<path d="M370.55 85V86.2" stroke="#777" stroke-width="0.5"/>
<path d="M383.02 85V86.2" stroke="#777" stroke-width="0.5"/>
<text x="0" y="0" font-size="4.9" font-weight="bold" text-anchor="end" fill="#222" transform="translate(309.80,90.50) rotate(-45)">day 0</text>
<text x="0" y="0" font-size="4.9" font-weight="bold" text-anchor="end" fill="#222" transform="translate(322.27,90.50) rotate(-45)">day 3</text>
<text x="0" y="0" font-size="4.9" font-weight="bold" text-anchor="end" fill="#222" transform="translate(334.74,90.50) rotate(-45)">day 6</text>
<text x="0" y="0" font-size="4.9" font-weight="bold" text-anchor="end" fill="#222" transform="translate(347.21,90.50) rotate(-45)">day 10</text>
<text x="0" y="0" font-size="4.9" font-weight="bold" text-anchor="end" fill="#222" transform="translate(359.68,90.50) rotate(-45)">day 14</text>
<text x="0" y="0" font-size="4.9" font-weight="bold" text-anchor="end" fill="#222" transform="translate(372.15,90.50) rotate(-45)">day 17</text>
<text x="0" y="0" font-size="4.9" font-weight="bold" text-anchor="end" fill="#222" transform="translate(384.62,90.50) rotate(-45)">day 20</text>
<text x="308.8" y="77.1" font-size="6.3" font-weight="bold" text-anchor="start" fill="#222" >Ba-L</text>
<rect x="302.3" y="17.5" width="41.9" height="15.3" fill="#fff" stroke="#999" stroke-width="0.7"/>
<path d="M303.8 21H314.4" stroke="#222" stroke-width="0.6" />
<rect x="307.45" y="19.35" width="3.30" height="3.30" fill="#111"/>
<text x="315.9" y="22.6" font-size="4.8" font-weight="bold" text-anchor="start" fill="#222" >control</text>
<path d="M303.8 28.5H314.4" stroke="#555" stroke-width="0.6" />
<path d="M309.10 26.60L310.90 29.80H307.30Z" fill="#111"/>
<text x="315.9" y="30.1" font-size="4.8" font-weight="bold" text-anchor="start" fill="#222" >rTat+CT319</text>
<text x="0" y="0" font-size="5.4" font-weight="bold" text-anchor="middle" fill="#222" transform="translate(282.5,52) rotate(-90)">RT activity, cpm</text>
<polyline points="431.50,85.30 444.17,85.30 456.84,84.75 469.51,65.41 482.18,31.71 494.85,49.94 507.52,61.54" fill="none" stroke="#555" stroke-width="0.7" />
<path d="M482.18 28.95V34.47M480.98 28.95H483.38M480.98 34.47H483.38" stroke="#888" stroke-width="0.5" fill="none"/>
<path d="M431.50 83.40L433.30 86.60H429.70Z" fill="#111"/>
<path d="M444.17 83.40L445.97 86.60H442.37Z" fill="#111"/>
<path d="M456.84 82.85L458.64 86.05H455.04Z" fill="#111"/>
<path d="M469.51 63.51L471.31 66.71H467.71Z" fill="#111"/>
<path d="M482.18 29.81L483.98 33.01H480.38Z" fill="#111"/>
<path d="M494.85 48.04L496.65 51.24H493.05Z" fill="#111"/>
<path d="M507.52 59.64L509.32 62.84H505.72Z" fill="#111"/>
<polyline points="431.50,85.30 444.17,85.30 456.84,84.75 469.51,65.41 482.18,37.23 494.85,51.60 507.52,67.62" fill="none" stroke="#222" stroke-width="0.7" />
<path d="M482.18 33.37V41.10M480.98 33.37H483.38M480.98 41.10H483.38" stroke="#888" stroke-width="0.5" fill="none"/>
<path d="M494.85 49.94V53.26M493.65 49.94H496.05M493.65 53.26H496.05" stroke="#888" stroke-width="0.5" fill="none"/>
<path d="M507.52 65.41V69.83M506.32 65.41H508.72M506.32 69.83H508.72" stroke="#888" stroke-width="0.5" fill="none"/>
<circle cx="431.50" cy="85.30" r="1.75" fill="#111"/>
<circle cx="444.17" cy="85.30" r="1.75" fill="#111"/>
<circle cx="456.84" cy="84.75" r="1.75" fill="#111"/>
<circle cx="469.51" cy="65.41" r="1.75" fill="#111"/>
<circle cx="482.18" cy="37.23" r="1.75" fill="#111"/>
<circle cx="494.85" cy="51.60" r="1.75" fill="#111"/>
<circle cx="507.52" cy="67.62" r="1.75" fill="#111"/>
<path d="M425 19V85.3H516" stroke="#777" stroke-width="0.7" fill="none"/>
<path d="M423.8 85.30H425" stroke="#777" stroke-width="0.6"/>
<text x="421.7" y="87.39999999999999" font-size="4.6" font-weight="bold" text-anchor="end" fill="#222" >0</text>
<path d="M423.8 68.72H425" stroke="#777" stroke-width="0.6"/>
<text x="421.7" y="70.82499999999999" font-size="4.6" font-weight="bold" text-anchor="end" fill="#222" >3000</text>
<path d="M423.8 52.15H425" stroke="#777" stroke-width="0.6"/>
<text x="421.7" y="54.25" font-size="4.6" font-weight="bold" text-anchor="end" fill="#222" >6000</text>
<path d="M423.8 35.58H425" stroke="#777" stroke-width="0.6"/>
<text x="421.7" y="37.675000000000004" font-size="4.6" font-weight="bold" text-anchor="end" fill="#222" >9000</text>
<path d="M423.8 19.00H425" stroke="#777" stroke-width="0.6"/>
<text x="421.7" y="21.1" font-size="4.6" font-weight="bold" text-anchor="end" fill="#222" >12000</text>
<path d="M431.50 85.3V86.5" stroke="#777" stroke-width="0.5"/>
<path d="M444.17 85.3V86.5" stroke="#777" stroke-width="0.5"/>
<path d="M456.84 85.3V86.5" stroke="#777" stroke-width="0.5"/>
<path d="M469.51 85.3V86.5" stroke="#777" stroke-width="0.5"/>
<path d="M482.18 85.3V86.5" stroke="#777" stroke-width="0.5"/>
<path d="M494.85 85.3V86.5" stroke="#777" stroke-width="0.5"/>
<path d="M507.52 85.3V86.5" stroke="#777" stroke-width="0.5"/>
<text x="0" y="0" font-size="4.9" font-weight="bold" text-anchor="end" fill="#222" transform="translate(433.10,90.80) rotate(-45)">day 0</text>
<text x="0" y="0" font-size="4.9" font-weight="bold" text-anchor="end" fill="#222" transform="translate(445.77,90.80) rotate(-45)">day 3</text>
<text x="0" y="0" font-size="4.9" font-weight="bold" text-anchor="end" fill="#222" transform="translate(458.44,90.80) rotate(-45)">day 6</text>
<text x="0" y="0" font-size="4.9" font-weight="bold" text-anchor="end" fill="#222" transform="translate(471.11,90.80) rotate(-45)">day 10</text>
<text x="0" y="0" font-size="4.9" font-weight="bold" text-anchor="end" fill="#222" transform="translate(483.78,90.80) rotate(-45)">day 14</text>
<text x="0" y="0" font-size="4.9" font-weight="bold" text-anchor="end" fill="#222" transform="translate(496.45,90.80) rotate(-45)">day 17</text>
<text x="0" y="0" font-size="4.9" font-weight="bold" text-anchor="end" fill="#222" transform="translate(509.12,90.80) rotate(-45)">day 20</text>
<text x="427.6" y="77.6" font-size="6.5" font-weight="bold" text-anchor="start" fill="#222" >III B</text>
<rect x="426.2" y="17.6" width="41.5" height="15.6" fill="#fff" stroke="#999" stroke-width="0.7"/>
<path d="M426.8 21.5H437.9" stroke="#222" stroke-width="0.6" />
<rect x="430.75" y="19.85" width="3.30" height="3.30" fill="#111"/>
<text x="440.1" y="23.1" font-size="4.8" font-weight="bold" text-anchor="start" fill="#222" >control</text>
<path d="M426.8 29.2H437.9" stroke="#555" stroke-width="0.6" />
<path d="M432.40 27.30L434.20 30.50H430.60Z" fill="#111"/>
<text x="440.1" y="30.8" font-size="4.8" font-weight="bold" text-anchor="start" fill="#222" >rTat+CT319</text>
<polyline points="313.00,202.60 325.50,202.60 338.00,197.68 350.50,177.67 363.00,173.41 375.50,180.30 388.00,192.43" fill="none" stroke="#999" stroke-width="0.7" />
<path d="M311.80 202.60H314.20M313.00 201.40V203.80" stroke="#333" stroke-width="0.6"/>
<path d="M324.30 202.60H326.70M325.50 201.40V203.80" stroke="#333" stroke-width="0.6"/>
<path d="M336.80 197.68H339.20M338.00 196.48V198.88" stroke="#333" stroke-width="0.6"/>
<path d="M349.30 177.67H351.70M350.50 176.47V178.87" stroke="#333" stroke-width="0.6"/>
<path d="M361.80 173.41H364.20M363.00 172.21V174.61" stroke="#333" stroke-width="0.6"/>
<path d="M374.30 180.30H376.70M375.50 179.10V181.50" stroke="#333" stroke-width="0.6"/>
<path d="M386.80 192.43H389.20M388.00 191.23V193.63" stroke="#333" stroke-width="0.6"/>
<polyline points="313.00,202.60 325.50,202.60 338.00,197.68 350.50,180.30 363.00,181.61 375.50,185.54 388.00,191.45" fill="none" stroke="#222" stroke-width="0.7" />
<rect x="312.40" y="202.00" width="1.2" height="1.2" fill="#333"/>
<rect x="324.90" y="202.00" width="1.2" height="1.2" fill="#333"/>
<rect x="337.40" y="197.08" width="1.2" height="1.2" fill="#333"/>
<path d="M350.50 179.04L351.76 180.30L350.50 181.56L349.24 180.30Z" fill="#111"/>
<path d="M363.00 180.35L364.26 181.61L363.00 182.87L361.74 181.61Z" fill="#111"/>
<path d="M375.50 184.28L376.76 185.54L375.50 186.80L374.24 185.54Z" fill="#111"/>
<path d="M388.00 190.19L389.26 191.45L388.00 192.71L386.74 191.45Z" fill="#111"/>
<polyline points="313.00,202.60 325.50,202.60 338.00,197.68 350.50,158.32 363.00,161.27 375.50,167.18 388.00,182.26" fill="none" stroke="#222" stroke-width="0.7" />
<path d="M350.50 156.35V160.29M349.30 156.35H351.70M349.30 160.29H351.70" stroke="#888" stroke-width="0.5" fill="none"/>
<path d="M363.00 159.63V162.91M361.80 159.63H364.20M361.80 162.91H364.20" stroke="#888" stroke-width="0.5" fill="none"/>
<rect x="312.40" y="202.00" width="1.2" height="1.2" fill="#333"/>
<rect x="324.90" y="202.00" width="1.2" height="1.2" fill="#333"/>
<rect x="337.40" y="197.08" width="1.2" height="1.2" fill="#333"/>
<rect x="348.85" y="156.67" width="3.30" height="3.30" fill="#111"/>
<rect x="361.35" y="159.62" width="3.30" height="3.30" fill="#111"/>
<rect x="373.85" y="165.53" width="3.30" height="3.30" fill="#111"/>
<rect x="386.35" y="180.61" width="3.30" height="3.30" fill="#111"/>
<path d="M306.5 137V202.6H393" stroke="#777" stroke-width="0.7" fill="none"/>
<path d="M305.3 202.60H306.5" stroke="#777" stroke-width="0.6"/>
<text x="303.2" y="204.7" font-size="4.6" font-weight="bold" text-anchor="end" fill="#222" >0</text>
<path d="M305.3 186.20H306.5" stroke="#777" stroke-width="0.6"/>
<text x="303.2" y="188.29999999999998" font-size="4.6" font-weight="bold" text-anchor="end" fill="#222" >5000</text>
<path d="M305.3 169.80H306.5" stroke="#777" stroke-width="0.6"/>
<text x="303.2" y="171.9" font-size="4.6" font-weight="bold" text-anchor="end" fill="#222" >10000</text>
<path d="M305.3 153.40H306.5" stroke="#777" stroke-width="0.6"/>
<text x="303.2" y="155.5" font-size="4.6" font-weight="bold" text-anchor="end" fill="#222" >15000</text>
<path d="M305.3 137.00H306.5" stroke="#777" stroke-width="0.6"/>
<text x="303.2" y="139.1" font-size="4.6" font-weight="bold" text-anchor="end" fill="#222" >20000</text>
<path d="M313.00 202.6V203.79999999999998" stroke="#777" stroke-width="0.5"/>
<path d="M325.50 202.6V203.79999999999998" stroke="#777" stroke-width="0.5"/>
<path d="M338.00 202.6V203.79999999999998" stroke="#777" stroke-width="0.5"/>
<path d="M350.50 202.6V203.79999999999998" stroke="#777" stroke-width="0.5"/>
<path d="M363.00 202.6V203.79999999999998" stroke="#777" stroke-width="0.5"/>
<path d="M375.50 202.6V203.79999999999998" stroke="#777" stroke-width="0.5"/>
<path d="M388.00 202.6V203.79999999999998" stroke="#777" stroke-width="0.5"/>
<text x="0" y="0" font-size="4.9" font-weight="bold" text-anchor="end" fill="#222" transform="translate(314.60,208.10) rotate(-45)">day 0</text>
<text x="0" y="0" font-size="4.9" font-weight="bold" text-anchor="end" fill="#222" transform="translate(327.10,208.10) rotate(-45)">day 3</text>
<text x="0" y="0" font-size="4.9" font-weight="bold" text-anchor="end" fill="#222" transform="translate(339.60,208.10) rotate(-45)">day 6</text>
<text x="0" y="0" font-size="4.9" font-weight="bold" text-anchor="end" fill="#222" transform="translate(352.10,208.10) rotate(-45)">day 10</text>
<text x="0" y="0" font-size="4.9" font-weight="bold" text-anchor="end" fill="#222" transform="translate(364.60,208.10) rotate(-45)">day 14</text>
<text x="0" y="0" font-size="4.9" font-weight="bold" text-anchor="end" fill="#222" transform="translate(377.10,208.10) rotate(-45)">day 17</text>
<text x="0" y="0" font-size="4.9" font-weight="bold" text-anchor="end" fill="#222" transform="translate(389.60,208.10) rotate(-45)">day 20</text>
<text x="309" y="199.3" font-size="6.3" font-weight="bold" text-anchor="start" fill="#222" >Ba-L</text>
<rect x="308.1" y="136.5" width="35" height="15" fill="#fff" stroke="#999" stroke-width="0.7"/>
<path d="M311.5 140.3H322.3" stroke="#222" stroke-width="0.6" />
<circle cx="316.90" cy="140.30" r="1.75" fill="#111"/>
<text x="323.8" y="141.9" font-size="4.4" font-weight="bold" text-anchor="start" fill="#222" >control</text>
<path d="M311.5 144.5H322.3" stroke="#222" stroke-width="0.6" />
<path d="M316.90 143.10L318.30 144.50L316.90 145.90L315.50 144.50Z" fill="#111"/>
<text x="323.8" y="146.1" font-size="4.4" font-weight="bold" text-anchor="start" fill="#222" >1 nM</text>
<path d="M311.5 148.8H322.3" stroke="#999" stroke-width="0.6" stroke-dasharray="1.2,0.8"/>
<path d="M315.70 148.80H318.10M316.90 147.60V150.00" stroke="#333" stroke-width="0.6"/>
<text x="323.8" y="150.4" font-size="4.4" font-weight="bold" text-anchor="start" fill="#222" >10 nM</text>
<text x="0" y="0" font-size="5.4" font-weight="bold" text-anchor="middle" fill="#222" transform="translate(287.4,169.6) rotate(-90)">RT activity, cpm</text>
<text x="350.3" y="175.4" font-size="5.2" font-weight="bold" text-anchor="middle" fill="#333" >*</text>
<text x="350.3" y="185.4" font-size="5.2" font-weight="bold" text-anchor="middle" fill="#333" >*</text>
<text x="362.7" y="170.9" font-size="5.2" font-weight="bold" text-anchor="middle" fill="#333" >*</text>
<text x="362.7" y="188.4" font-size="5.2" font-weight="bold" text-anchor="middle" fill="#333" >*</text>
<text x="375" y="178.4" font-size="5.2" font-weight="bold" text-anchor="middle" fill="#333" >*</text>
<text x="375" y="191.4" font-size="5.2" font-weight="bold" text-anchor="middle" fill="#333" >*</text>
<text x="388" y="188.9" font-size="5.2" font-weight="bold" text-anchor="middle" fill="#333" >*</text>
<text x="388" y="198.4" font-size="5.2" font-weight="bold" text-anchor="middle" fill="#333" >*</text>
<text x="366" y="171.1" font-size="4.6" font-weight="bold" text-anchor="middle" fill="#333" >§</text>
<text x="378.5" y="178.1" font-size="4.6" font-weight="bold" text-anchor="middle" fill="#333" >§</text>
<polyline points="432.70,202.50 445.30,202.50 457.90,201.41 470.50,178.10 483.10,171.99 495.70,175.37 508.30,184.81" fill="none" stroke="#999" stroke-width="0.7" />
<path d="M431.50 202.50H433.90M432.70 201.30V203.70" stroke="#333" stroke-width="0.6"/>
<path d="M444.10 202.50H446.50M445.30 201.30V203.70" stroke="#333" stroke-width="0.6"/>
<path d="M456.70 201.41H459.10M457.90 200.21V202.61" stroke="#333" stroke-width="0.6"/>
<path d="M469.30 178.10H471.70M470.50 176.90V179.30" stroke="#333" stroke-width="0.6"/>
<path d="M481.90 171.99H484.30M483.10 170.79V173.19" stroke="#333" stroke-width="0.6"/>
<path d="M494.50 175.37H496.90M495.70 174.17V176.57" stroke="#333" stroke-width="0.6"/>
<path d="M507.10 184.81H509.50M508.30 183.62V186.01" stroke="#333" stroke-width="0.6"/>
<polyline points="432.70,202.50 445.30,202.50 457.90,201.41 470.50,184.21 483.10,182.90 495.70,190.87 508.30,194.31" fill="none" stroke="#222" stroke-width="0.7" />
<rect x="432.10" y="201.90" width="1.2" height="1.2" fill="#333"/>
<rect x="444.70" y="201.90" width="1.2" height="1.2" fill="#333"/>
<rect x="457.30" y="200.81" width="1.2" height="1.2" fill="#333"/>
<path d="M470.50 182.95L471.76 184.21L470.50 185.47L469.24 184.21Z" fill="#111"/>
<path d="M483.10 181.64L484.36 182.90L483.10 184.16L481.84 182.90Z" fill="#111"/>
<path d="M495.70 189.61L496.96 190.87L495.70 192.13L494.44 190.87Z" fill="#111"/>
<path d="M508.30 193.05L509.56 194.31L508.30 195.57L507.04 194.31Z" fill="#111"/>
<polyline points="432.70,202.50 445.30,202.50 457.90,201.41 470.50,184.81 483.10,154.79 495.70,169.09 508.30,184.21" fill="none" stroke="#222" stroke-width="0.7" />
<path d="M483.10 148.24V161.34M481.90 148.24H484.30M481.90 161.34H484.30" stroke="#888" stroke-width="0.5" fill="none"/>
<path d="M495.70 167.46V170.73M494.50 167.46H496.90M494.50 170.73H496.90" stroke="#888" stroke-width="0.5" fill="none"/>
<rect x="432.10" y="201.90" width="1.2" height="1.2" fill="#333"/>
<rect x="444.70" y="201.90" width="1.2" height="1.2" fill="#333"/>
<rect x="457.30" y="200.81" width="1.2" height="1.2" fill="#333"/>
<rect x="468.85" y="183.16" width="3.30" height="3.30" fill="#111"/>
<rect x="481.45" y="153.14" width="3.30" height="3.30" fill="#111"/>
<rect x="494.05" y="167.44" width="3.30" height="3.30" fill="#111"/>
<rect x="506.65" y="182.56" width="3.30" height="3.30" fill="#111"/>
<path d="M426.5 137V202.5H515.5" stroke="#777" stroke-width="0.7" fill="none"/>
<path d="M425.3 202.50H426.5" stroke="#777" stroke-width="0.6"/>
<text x="423.2" y="204.6" font-size="4.6" font-weight="bold" text-anchor="end" fill="#222" >0</text>
<path d="M425.3 186.12H426.5" stroke="#777" stroke-width="0.6"/>
<text x="423.2" y="188.225" font-size="4.6" font-weight="bold" text-anchor="end" fill="#222" >3000</text>
<path d="M425.3 169.75H426.5" stroke="#777" stroke-width="0.6"/>
<text x="423.2" y="171.85" font-size="4.6" font-weight="bold" text-anchor="end" fill="#222" >6000</text>
<path d="M425.3 153.38H426.5" stroke="#777" stroke-width="0.6"/>
<text x="423.2" y="155.475" font-size="4.6" font-weight="bold" text-anchor="end" fill="#222" >9000</text>
<path d="M425.3 137.00H426.5" stroke="#777" stroke-width="0.6"/>
<text x="423.2" y="139.1" font-size="4.6" font-weight="bold" text-anchor="end" fill="#222" >12000</text>
<path d="M432.70 202.5V203.7" stroke="#777" stroke-width="0.5"/>
<path d="M445.30 202.5V203.7" stroke="#777" stroke-width="0.5"/>
<path d="M457.90 202.5V203.7" stroke="#777" stroke-width="0.5"/>
<path d="M470.50 202.5V203.7" stroke="#777" stroke-width="0.5"/>
<path d="M483.10 202.5V203.7" stroke="#777" stroke-width="0.5"/>
<path d="M495.70 202.5V203.7" stroke="#777" stroke-width="0.5"/>
<path d="M508.30 202.5V203.7" stroke="#777" stroke-width="0.5"/>
<text x="0" y="0" font-size="4.9" font-weight="bold" text-anchor="end" fill="#222" transform="translate(434.30,208.00) rotate(-45)">day 0</text>
<text x="0" y="0" font-size="4.9" font-weight="bold" text-anchor="end" fill="#222" transform="translate(446.90,208.00) rotate(-45)">day 3</text>
<text x="0" y="0" font-size="4.9" font-weight="bold" text-anchor="end" fill="#222" transform="translate(459.50,208.00) rotate(-45)">day 6</text>
<text x="0" y="0" font-size="4.9" font-weight="bold" text-anchor="end" fill="#222" transform="translate(472.10,208.00) rotate(-45)">day 10</text>
<text x="0" y="0" font-size="4.9" font-weight="bold" text-anchor="end" fill="#222" transform="translate(484.70,208.00) rotate(-45)">day 14</text>
<text x="0" y="0" font-size="4.9" font-weight="bold" text-anchor="end" fill="#222" transform="translate(497.30,208.00) rotate(-45)">day 17</text>
<text x="0" y="0" font-size="4.9" font-weight="bold" text-anchor="end" fill="#222" transform="translate(509.90,208.00) rotate(-45)">day 20</text>
<text x="427.6" y="198.8" font-size="6.5" font-weight="bold" text-anchor="start" fill="#222" >III B</text>
<rect x="427.2" y="136.4" width="34.8" height="15.2" fill="#fff" stroke="#999" stroke-width="0.7"/>
<path d="M431.7 140.3H442" stroke="#222" stroke-width="0.6" />
<circle cx="436.70" cy="140.30" r="1.75" fill="#111"/>
<text x="444.2" y="141.9" font-size="4.4" font-weight="bold" text-anchor="start" fill="#222" >control</text>
<path d="M431.7 144.5H442" stroke="#222" stroke-width="0.6" />
<path d="M436.70 143.10L438.10 144.50L436.70 145.90L435.30 144.50Z" fill="#111"/>
<text x="444.2" y="146.1" font-size="4.4" font-weight="bold" text-anchor="start" fill="#222" >1 nM</text>
<path d="M431.7 148.8H442" stroke="#999" stroke-width="0.6" stroke-dasharray="1.2,0.8"/>
<path d="M435.50 148.80H437.90M436.70 147.60V150.00" stroke="#333" stroke-width="0.6"/>
<text x="444.2" y="150.4" font-size="4.4" font-weight="bold" text-anchor="start" fill="#222" >10 nM</text>
<text x="483" y="172.4" font-size="5.2" font-weight="bold" text-anchor="middle" fill="#333" >*</text>
<text x="483" y="188.9" font-size="5.2" font-weight="bold" text-anchor="middle" fill="#333" >*</text>
<text x="496" y="174.9" font-size="5.2" font-weight="bold" text-anchor="middle" fill="#333" >*</text>
<text x="496" y="195.4" font-size="5.2" font-weight="bold" text-anchor="middle" fill="#333" >*</text>
<text x="508.5" y="183.4" font-size="5.2" font-weight="bold" text-anchor="middle" fill="#333" >*</text>
<text x="508.5" y="199.4" font-size="5.2" font-weight="bold" text-anchor="middle" fill="#333" >*</text>
<text x="486.4" y="169.9" font-size="4.6" font-weight="bold" text-anchor="middle" fill="#333" >§</text>
<text x="498.5" y="178.1" font-size="4.6" font-weight="bold" text-anchor="middle" fill="#333" >§</text>
<text x="508.5" y="179.1" font-size="4.6" font-weight="bold" text-anchor="middle" fill="#333" >§</text>
<polyline points="91.00,322.30 103.60,322.30 116.20,321.42 128.80,315.26 141.40,305.14 154.00,298.54 166.60,287.54" fill="none" stroke="#333" stroke-width="0.7" />
<path d="M91.00 320.40L92.80 323.60H89.20Z" fill="#111"/>
<path d="M103.60 320.40L105.40 323.60H101.80Z" fill="#111"/>
<path d="M116.20 319.52L118.00 322.72H114.40Z" fill="#111"/>
<path d="M128.80 313.36L130.60 316.56H127.00Z" fill="#111"/>
<path d="M141.40 303.24L143.20 306.44H139.60Z" fill="#111"/>
<path d="M154.00 296.64L155.80 299.84H152.20Z" fill="#111"/>
<path d="M166.60 285.64L168.40 288.84H164.80Z" fill="#111"/>
<polyline points="91.00,322.30 103.60,322.30 116.20,321.42 128.80,305.14 141.40,273.46 154.00,287.98 166.60,295.02" fill="none" stroke="#333" stroke-width="0.7" />
<path d="M128.80 299.42V310.86M127.60 299.42H130.00M127.60 310.86H130.00" stroke="#888" stroke-width="0.5" fill="none"/>
<path d="M141.40 269.50V277.42M140.20 269.50H142.60M140.20 277.42H142.60" stroke="#888" stroke-width="0.5" fill="none"/>
<path d="M166.60 292.38V297.66M165.40 292.38H167.80M165.40 297.66H167.80" stroke="#888" stroke-width="0.5" fill="none"/>
<rect x="89.35" y="320.65" width="3.30" height="3.30" fill="#111"/>
<rect x="101.95" y="320.65" width="3.30" height="3.30" fill="#111"/>
<rect x="114.55" y="319.77" width="3.30" height="3.30" fill="#111"/>
<rect x="127.15" y="303.49" width="3.30" height="3.30" fill="#111"/>
<rect x="139.75" y="271.81" width="3.30" height="3.30" fill="#111"/>
<rect x="152.35" y="286.33" width="3.30" height="3.30" fill="#111"/>
<rect x="164.95" y="293.37" width="3.30" height="3.30" fill="#111"/>
<path d="M85.3 256.3V322.3H172" stroke="#777" stroke-width="0.7" fill="none"/>
<path d="M84.1 322.30H85.3" stroke="#777" stroke-width="0.6"/>
<text x="82.0" y="324.40000000000003" font-size="4.6" font-weight="bold" text-anchor="end" fill="#222" >0</text>
<path d="M84.1 309.10H85.3" stroke="#777" stroke-width="0.6"/>
<text x="82.0" y="311.20000000000005" font-size="4.6" font-weight="bold" text-anchor="end" fill="#222" >3000</text>
<path d="M84.1 295.90H85.3" stroke="#777" stroke-width="0.6"/>
<text x="82.0" y="298.00000000000006" font-size="4.6" font-weight="bold" text-anchor="end" fill="#222" >6000</text>
<path d="M84.1 282.70H85.3" stroke="#777" stroke-width="0.6"/>
<text x="82.0" y="284.8" font-size="4.6" font-weight="bold" text-anchor="end" fill="#222" >9000</text>
<path d="M84.1 269.50H85.3" stroke="#777" stroke-width="0.6"/>
<text x="82.0" y="271.6" font-size="4.6" font-weight="bold" text-anchor="end" fill="#222" >12000</text>
<path d="M84.1 256.30H85.3" stroke="#777" stroke-width="0.6"/>
<text x="82.0" y="258.40000000000003" font-size="4.6" font-weight="bold" text-anchor="end" fill="#222" >15000</text>
<path d="M91.00 322.3V323.5" stroke="#777" stroke-width="0.5"/>
<path d="M103.60 322.3V323.5" stroke="#777" stroke-width="0.5"/>
<path d="M116.20 322.3V323.5" stroke="#777" stroke-width="0.5"/>
<path d="M128.80 322.3V323.5" stroke="#777" stroke-width="0.5"/>
<path d="M141.40 322.3V323.5" stroke="#777" stroke-width="0.5"/>
<path d="M154.00 322.3V323.5" stroke="#777" stroke-width="0.5"/>
<path d="M166.60 322.3V323.5" stroke="#777" stroke-width="0.5"/>
<text x="0" y="0" font-size="4.9" font-weight="bold" text-anchor="end" fill="#222" transform="translate(92.60,327.80) rotate(-45)">day 0</text>
<text x="0" y="0" font-size="4.9" font-weight="bold" text-anchor="end" fill="#222" transform="translate(105.20,327.80) rotate(-45)">day 3</text>
<text x="0" y="0" font-size="4.9" font-weight="bold" text-anchor="end" fill="#222" transform="translate(117.80,327.80) rotate(-45)">day 6</text>
<text x="0" y="0" font-size="4.9" font-weight="bold" text-anchor="end" fill="#222" transform="translate(130.40,327.80) rotate(-45)">day 10</text>
<text x="0" y="0" font-size="4.9" font-weight="bold" text-anchor="end" fill="#222" transform="translate(143.00,327.80) rotate(-45)">day 14</text>
<text x="0" y="0" font-size="4.9" font-weight="bold" text-anchor="end" fill="#222" transform="translate(155.60,327.80) rotate(-45)">day 17</text>
<text x="0" y="0" font-size="4.9" font-weight="bold" text-anchor="end" fill="#222" transform="translate(168.20,327.80) rotate(-45)">day 20</text>
<rect x="87.1" y="255.2" width="32.5" height="14.5" fill="#fff" stroke="#999" stroke-width="0.7"/>
<path d="M90 259.3H99.6" stroke="#222" stroke-width="0.6" />
<circle cx="95.00" cy="259.30" r="1.75" fill="#111"/>
<text x="118.1" y="260.90000000000003" font-size="4.8" font-weight="bold" text-anchor="end" fill="#222" >control</text>
<path d="M90 265.2H99.6" stroke="#333" stroke-width="0.6" />
<path d="M95.00 263.30L96.80 266.50H93.20Z" fill="#111"/>
<text x="118.1" y="266.8" font-size="4.8" font-weight="bold" text-anchor="end" fill="#222" >CT319</text>
<text x="0" y="0" font-size="5.1" font-weight="bold" text-anchor="middle" fill="#222" transform="translate(63.8,288.4) rotate(-90)">RT activity, cpm</text>
<text x="141.7" y="302.9" font-size="5.2" font-weight="bold" text-anchor="middle" fill="#333" >*</text>
<text x="154.4" y="296.7" font-size="5.2" font-weight="bold" text-anchor="middle" fill="#333" >*</text>
<text x="166.8" y="286.9" font-size="5.2" font-weight="bold" text-anchor="middle" fill="#333" >*</text>
<polyline points="224.00,322.85 236.62,322.85 249.24,321.96 261.86,305.93 274.48,305.49 287.10,307.27 299.72,313.50" fill="none" stroke="#333" stroke-width="0.7" />
<path d="M224.00 320.95L225.80 324.15H222.20Z" fill="#111"/>
<path d="M236.62 320.95L238.42 324.15H234.82Z" fill="#111"/>
<path d="M249.24 320.06L251.04 323.26H247.44Z" fill="#111"/>
<path d="M261.86 304.03L263.66 307.23H260.06Z" fill="#111"/>
<path d="M274.48 303.59L276.28 306.79H272.68Z" fill="#111"/>
<path d="M287.10 305.37L288.90 308.57H285.30Z" fill="#111"/>
<path d="M299.72 311.60L301.52 314.80H297.92Z" fill="#111"/>
<polyline points="224.00,322.85 236.62,322.85 249.24,321.96 261.86,305.93 274.48,273.42 287.10,287.67 299.72,295.24" fill="none" stroke="#333" stroke-width="0.7" />
<path d="M261.86 299.25V312.61M260.66 299.25H263.06M260.66 312.61H263.06" stroke="#888" stroke-width="0.5" fill="none"/>
<path d="M274.48 269.86V276.99M273.28 269.86H275.68M273.28 276.99H275.68" stroke="#888" stroke-width="0.5" fill="none"/>
<path d="M299.72 293.02V297.47M298.52 293.02H300.92M298.52 297.47H300.92" stroke="#888" stroke-width="0.5" fill="none"/>
<rect x="222.35" y="321.20" width="3.30" height="3.30" fill="#111"/>
<rect x="234.97" y="321.20" width="3.30" height="3.30" fill="#111"/>
<rect x="247.59" y="320.31" width="3.30" height="3.30" fill="#111"/>
<rect x="260.21" y="304.28" width="3.30" height="3.30" fill="#111"/>
<rect x="272.83" y="271.77" width="3.30" height="3.30" fill="#111"/>
<rect x="285.45" y="286.02" width="3.30" height="3.30" fill="#111"/>
<rect x="298.07" y="293.59" width="3.30" height="3.30" fill="#111"/>
<path d="M217.9 256.5V323.3H305" stroke="#777" stroke-width="0.7" fill="none"/>
<path d="M216.70000000000002 323.30H217.9" stroke="#777" stroke-width="0.6"/>
<text x="214.6" y="325.40000000000003" font-size="4.6" font-weight="bold" text-anchor="end" fill="#222" >0</text>
<path d="M216.70000000000002 309.94H217.9" stroke="#777" stroke-width="0.6"/>
<text x="214.6" y="312.04" font-size="4.6" font-weight="bold" text-anchor="end" fill="#222" >3000</text>
<path d="M216.70000000000002 296.58H217.9" stroke="#777" stroke-width="0.6"/>
<text x="214.6" y="298.68" font-size="4.6" font-weight="bold" text-anchor="end" fill="#222" >6000</text>
<path d="M216.70000000000002 283.22H217.9" stroke="#777" stroke-width="0.6"/>
<text x="214.6" y="285.32000000000005" font-size="4.6" font-weight="bold" text-anchor="end" fill="#222" >9000</text>
<path d="M216.70000000000002 269.86H217.9" stroke="#777" stroke-width="0.6"/>
<text x="214.6" y="271.96000000000004" font-size="4.6" font-weight="bold" text-anchor="end" fill="#222" >12000</text>
<path d="M216.70000000000002 256.50H217.9" stroke="#777" stroke-width="0.6"/>
<text x="214.6" y="258.6" font-size="4.6" font-weight="bold" text-anchor="end" fill="#222" >15000</text>
<path d="M224.00 323.3V324.5" stroke="#777" stroke-width="0.5"/>
<path d="M236.62 323.3V324.5" stroke="#777" stroke-width="0.5"/>
<path d="M249.24 323.3V324.5" stroke="#777" stroke-width="0.5"/>
<path d="M261.86 323.3V324.5" stroke="#777" stroke-width="0.5"/>
<path d="M274.48 323.3V324.5" stroke="#777" stroke-width="0.5"/>
<path d="M287.10 323.3V324.5" stroke="#777" stroke-width="0.5"/>
<path d="M299.72 323.3V324.5" stroke="#777" stroke-width="0.5"/>
<text x="0" y="0" font-size="4.9" font-weight="bold" text-anchor="end" fill="#222" transform="translate(225.60,328.80) rotate(-45)">day 0</text>
<text x="0" y="0" font-size="4.9" font-weight="bold" text-anchor="end" fill="#222" transform="translate(238.22,328.80) rotate(-45)">day 3</text>
<text x="0" y="0" font-size="4.9" font-weight="bold" text-anchor="end" fill="#222" transform="translate(250.84,328.80) rotate(-45)">day 6</text>
<text x="0" y="0" font-size="4.9" font-weight="bold" text-anchor="end" fill="#222" transform="translate(263.46,328.80) rotate(-45)">day 10</text>
<text x="0" y="0" font-size="4.9" font-weight="bold" text-anchor="end" fill="#222" transform="translate(276.08,328.80) rotate(-45)">day 14</text>
<text x="0" y="0" font-size="4.9" font-weight="bold" text-anchor="end" fill="#222" transform="translate(288.70,328.80) rotate(-45)">day 17</text>
<text x="0" y="0" font-size="4.9" font-weight="bold" text-anchor="end" fill="#222" transform="translate(301.32,328.80) rotate(-45)">day 20</text>
<rect x="219.5" y="255.2" width="32.7" height="14.6" fill="#fff" stroke="#999" stroke-width="0.7"/>
<path d="M222.2 259.7H232.5" stroke="#222" stroke-width="0.6" />
<rect x="225.85" y="258.05" width="3.30" height="3.30" fill="#111"/>
<text x="249.8" y="261.3" font-size="4.8" font-weight="bold" text-anchor="end" fill="#222" >control</text>
<path d="M222.2 265.2H232.5" stroke="#333" stroke-width="0.6" />
<path d="M227.50 263.30L229.30 266.50H225.70Z" fill="#111"/>
<text x="249.8" y="266.8" font-size="4.8" font-weight="bold" text-anchor="end" fill="#222" >CT319</text>
<text x="274.3" y="302.2" font-size="5.2" font-weight="bold" text-anchor="middle" fill="#333" >*</text>
<text x="287.5" y="304.7" font-size="5.2" font-weight="bold" text-anchor="middle" fill="#333" >*</text>
<text x="299.7" y="310.79999999999995" font-size="5.2" font-weight="bold" text-anchor="middle" fill="#333" >*</text>
<polyline points="356.00,322.00 368.95,322.00 381.90,321.11 394.85,304.66 407.80,273.09 420.75,314.00 433.70,320.22" fill="none" stroke="#333" stroke-width="0.7" />
<path d="M356.00 320.10L357.80 323.30H354.20Z" fill="#111"/>
<path d="M368.95 320.10L370.75 323.30H367.15Z" fill="#111"/>
<path d="M381.90 319.21L383.70 322.41H380.10Z" fill="#111"/>
<path d="M394.85 302.76L396.65 305.96H393.05Z" fill="#111"/>
<path d="M407.80 271.19L409.60 274.39H406.00Z" fill="#111"/>
<path d="M420.75 312.10L422.55 315.30H418.95Z" fill="#111"/>
<path d="M433.70 318.32L435.50 321.52H431.90Z" fill="#111"/>
<polyline points="356.00,322.00 368.95,322.00 381.90,321.11 394.85,304.66 407.80,271.75 420.75,285.98 433.70,293.54" fill="none" stroke="#333" stroke-width="0.7" />
<path d="M394.85 297.99V311.33M393.65 297.99H396.05M393.65 311.33H396.05" stroke="#888" stroke-width="0.5" fill="none"/>
<path d="M407.80 268.20V275.31M406.60 268.20H409.00M406.60 275.31H409.00" stroke="#888" stroke-width="0.5" fill="none"/>
<path d="M433.70 290.87V296.21M432.50 290.87H434.90M432.50 296.21H434.90" stroke="#888" stroke-width="0.5" fill="none"/>
<rect x="354.35" y="320.35" width="3.30" height="3.30" fill="#111"/>
<rect x="367.30" y="320.35" width="3.30" height="3.30" fill="#111"/>
<rect x="380.25" y="319.46" width="3.30" height="3.30" fill="#111"/>
<rect x="393.20" y="303.01" width="3.30" height="3.30" fill="#111"/>
<rect x="406.15" y="270.10" width="3.30" height="3.30" fill="#111"/>
<rect x="419.10" y="284.33" width="3.30" height="3.30" fill="#111"/>
<rect x="432.05" y="291.89" width="3.30" height="3.30" fill="#111"/>
<path d="M350.1 255.3V322H440" stroke="#777" stroke-width="0.7" fill="none"/>
<path d="M348.90000000000003 322.00H350.1" stroke="#777" stroke-width="0.6"/>
<text x="346.8" y="324.1" font-size="4.6" font-weight="bold" text-anchor="end" fill="#222" >0</text>
<path d="M348.90000000000003 308.66H350.1" stroke="#777" stroke-width="0.6"/>
<text x="346.8" y="310.76000000000005" font-size="4.6" font-weight="bold" text-anchor="end" fill="#222" >3000</text>
<path d="M348.90000000000003 295.32H350.1" stroke="#777" stroke-width="0.6"/>
<text x="346.8" y="297.42" font-size="4.6" font-weight="bold" text-anchor="end" fill="#222" >6000</text>
<path d="M348.90000000000003 281.98H350.1" stroke="#777" stroke-width="0.6"/>
<text x="346.8" y="284.08000000000004" font-size="4.6" font-weight="bold" text-anchor="end" fill="#222" >9000</text>
<path d="M348.90000000000003 268.64H350.1" stroke="#777" stroke-width="0.6"/>
<text x="346.8" y="270.74" font-size="4.6" font-weight="bold" text-anchor="end" fill="#222" >12000</text>
<path d="M348.90000000000003 255.30H350.1" stroke="#777" stroke-width="0.6"/>
<text x="346.8" y="257.40000000000003" font-size="4.6" font-weight="bold" text-anchor="end" fill="#222" >15000</text>
<path d="M356.00 322V323.2" stroke="#777" stroke-width="0.5"/>
<path d="M368.95 322V323.2" stroke="#777" stroke-width="0.5"/>
<path d="M381.90 322V323.2" stroke="#777" stroke-width="0.5"/>
<path d="M394.85 322V323.2" stroke="#777" stroke-width="0.5"/>
<path d="M407.80 322V323.2" stroke="#777" stroke-width="0.5"/>
<path d="M420.75 322V323.2" stroke="#777" stroke-width="0.5"/>
<path d="M433.70 322V323.2" stroke="#777" stroke-width="0.5"/>
<text x="0" y="0" font-size="4.9" font-weight="bold" text-anchor="end" fill="#222" transform="translate(357.60,327.50) rotate(-45)">day 0</text>
<text x="0" y="0" font-size="4.9" font-weight="bold" text-anchor="end" fill="#222" transform="translate(370.55,327.50) rotate(-45)">day 3</text>
<text x="0" y="0" font-size="4.9" font-weight="bold" text-anchor="end" fill="#222" transform="translate(383.50,327.50) rotate(-45)">day 6</text>
<text x="0" y="0" font-size="4.9" font-weight="bold" text-anchor="end" fill="#222" transform="translate(396.45,327.50) rotate(-45)">day 10</text>
<text x="0" y="0" font-size="4.9" font-weight="bold" text-anchor="end" fill="#222" transform="translate(409.40,327.50) rotate(-45)">day 14</text>
<text x="0" y="0" font-size="4.9" font-weight="bold" text-anchor="end" fill="#222" transform="translate(422.35,327.50) rotate(-45)">day 17</text>
<text x="0" y="0" font-size="4.9" font-weight="bold" text-anchor="end" fill="#222" transform="translate(435.30,327.50) rotate(-45)">day 20</text>
<rect x="351.8" y="255.2" width="32.4" height="14.5" fill="#fff" stroke="#999" stroke-width="0.7"/>
<path d="M354.5 259.3H364.9" stroke="#222" stroke-width="0.6" />
<circle cx="359.90" cy="259.30" r="1.75" fill="#111"/>
<text x="383" y="260.90000000000003" font-size="4.8" font-weight="bold" text-anchor="end" fill="#222" >control</text>
<path d="M354.5 265.2H364.9" stroke="#333" stroke-width="0.6" />
<path d="M359.90 263.30L361.70 266.50H358.10Z" fill="#111"/>
<text x="383" y="266.8" font-size="4.8" font-weight="bold" text-anchor="end" fill="#222" >CT319</text>
<text x="422" y="311.0" font-size="5.2" font-weight="bold" text-anchor="middle" fill="#333" >*</text>
<text x="432.5" y="315.2" font-size="5.2" font-weight="bold" text-anchor="middle" fill="#333" >*</text>
</svg>
</body></html>
